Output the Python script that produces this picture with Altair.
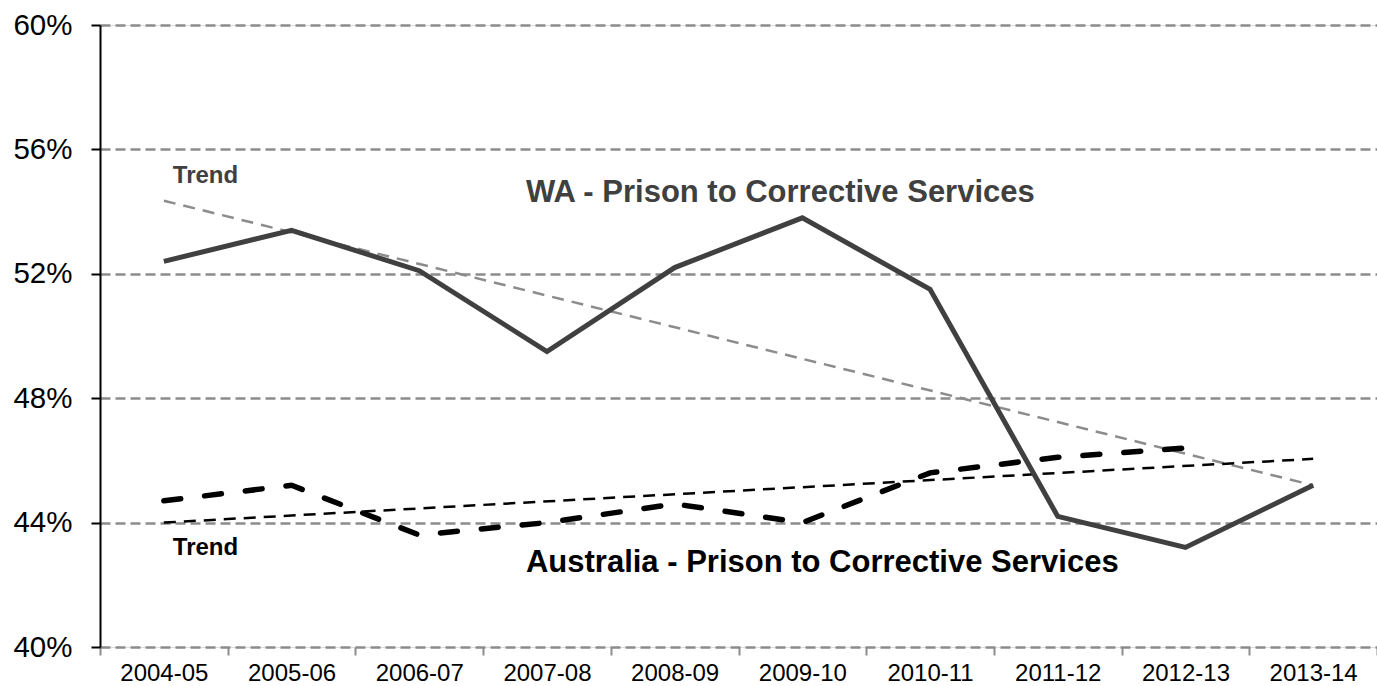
import altair as alt
import pandas as pd

years = ["2004-05", "2005-06", "2006-07", "2007-08", "2008-09",
         "2009-10", "2010-11", "2011-12", "2012-13", "2013-14"]
wa = [52.4, 53.4, 52.1, 49.5, 52.2, 53.8, 51.5, 44.2, 43.2, 45.2]
aus_years = years[:9]
aus = [44.7, 45.2, 43.6, 44.0, 44.6, 44.0, 45.6, 46.1, 46.4]
trend_years = ["2004-05", "2013-14"]
wa_trend = [54.35, 45.2]
aus_trend = [44.0, 46.05]
y_ticks = [40, 44, 48, 52, 56, 60]

FONT = "Liberation Sans"

wa_df = pd.DataFrame({"year": years, "v": wa})
aus_df = pd.DataFrame({"year": aus_years, "v": aus})
wat_df = pd.DataFrame({"year": trend_years, "v": wa_trend})
aust_df = pd.DataFrame({"year": trend_years, "v": aus_trend})

x_enc = alt.X("year:N", sort=years, bandPosition=0.5,
              scale=alt.Scale(type="band", domain=years, paddingInner=0, paddingOuter=0),
              axis=alt.Axis(title=None, labelAngle=0, tickBand="extent", domain=False,
                            ticks=True, tickColor="#8c8c8c", tickWidth=2, tickSize=8,
                            labelFont=FONT, labelFontSize=24, labelColor="#000000",
                            labelPadding=6, grid=False))
y_scale = alt.Scale(domain=[40, 60], nice=False, zero=False)
y_enc = alt.Y("v:Q", scale=y_scale,
              axis=alt.Axis(title=None, values=y_ticks, labelExpr="datum.value + '%'",
                            labelFont=FONT, labelFontSize=29.5, labelColor="#000000",
                            labelPadding=19, tickSize=9, tickColor="#000000", tickWidth=2,
                            domain=True, domainColor="#000000", domainWidth=2,
                            grid=True, gridColor="#8c8c8c", gridWidth=2.5,
                            gridDash=[10, 5]))

wa_line = alt.Chart(wa_df).mark_line(color="#404040", strokeWidth=5, strokeJoin="miter").encode(x=x_enc, y=y_enc)
aus_line = alt.Chart(aus_df).mark_line(color="#000000", strokeWidth=5.5, strokeDash=[17, 24],
                                       strokeCap="round").encode(x=x_enc, y=y_enc)
wa_tr = alt.Chart(wat_df).mark_line(color="#8c8c8c", strokeWidth=2.5, strokeDash=[12, 8]).encode(x=x_enc, y=y_enc)
aus_tr = alt.Chart(aust_df).mark_line(color="#000000", strokeWidth=2.5, strokeDash=[12, 8]).encode(x=x_enc, y=y_enc)


def label(text, year, v, dx, color, size):
    df = pd.DataFrame({"year": [year], "v": [v], "t": [text]})
    return alt.Chart(df).mark_text(align="left", baseline="alphabetic", dx=dx, font=FONT,
                                   fontWeight="bold", fontSize=size, color=color).encode(
        x=alt.X("year:N", sort=years, bandPosition=0.5,
                scale=alt.Scale(type="band", domain=years, paddingInner=0, paddingOuter=0)),
        y=alt.Y("v:Q", scale=y_scale), text="t:N")


t1 = label("Trend", "2004-05", 54.92, 9, "#404040", 24)
t2 = label("WA - Prison to Corrective Services", "2007-08", 54.31, -21, "#404040", 31)
t3 = label("Trend", "2004-05", 42.96, 9, "#000000", 24)
t4 = label("Australia - Prison to Corrective Services", "2007-08", 42.41, -21, "#000000", 31)

chart = alt.layer(wa_tr, aus_tr, aus_line, wa_line, t1, t2, t3, t4).properties(
    width=1277, height=622,
    autosize=alt.AutoSizeParams(type="none"),
    padding={"left": 100, "top": 25, "right": 0, "bottom": 39},
).configure_view(stroke=None).configure(background="white")

chart.save("out.html", embed_options={"renderer": "svg", "actions": False})
